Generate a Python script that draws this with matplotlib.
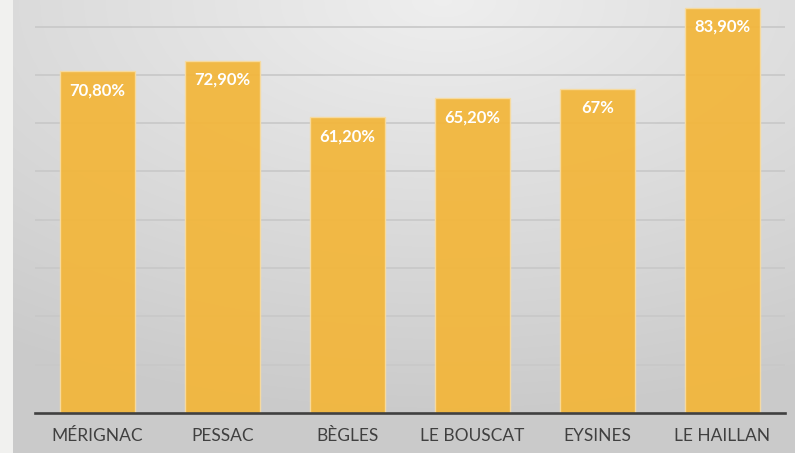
import numpy as np
import matplotlib
matplotlib.use("Agg")
import matplotlib.pyplot as plt

categories = ["MÉRIGNAC", "PESSAC", "BÈGLES", "LE BOUSCAT", "EYSINES", "LE HAILLAN"]
values = [70.8, 72.9, 61.2, 65.2, 67.0, 83.9]
labels = ["70,80%", "72,90%", "61,20%", "65,20%", "67%", "83,90%"]

W, H = 795, 453
fig = plt.figure(figsize=(W / 100, H / 100), dpi=100)
fig.patch.set_facecolor("#f1f1ef")

# background gradient panel
bg = fig.add_axes([13 / W, 0, 1 - 13 / W, 1])
yy, xx = np.mgrid[0:1:200j, 0:1:400j]
r = np.sqrt(((xx - 0.55) * 1.0) ** 2 + ((yy - 0.0) * 1.1) ** 2)
g = 0.935 - 0.14 * np.clip(r / 1.0, 0, 1)
img = np.dstack([g, g, g])
bg.imshow(img, aspect="auto", extent=[0, 1, 1, 0], interpolation="bicubic")
bg.set_axis_off()

ax = fig.add_axes([35 / W, 1 - 413 / H, 750 / W, 413 / H])
ax.patch.set_alpha(0)
x = np.arange(len(categories))
ax.set_xlim(-0.5, len(categories) - 0.5)
ax.set_ylim(0, 85.5)
ax.set_yticks(np.arange(10, 81, 10))
ax.yaxis.grid(True, color="#c8c8c8", linewidth=1.2)
ax.set_axisbelow(True)
bars = ax.bar(x, values, width=0.6, color="#f3b63a", alpha=0.93,
              edgecolor="#f8dca0", linewidth=1.0, zorder=2)
for xi, v, lab in zip(x, values, labels):
    ax.annotate(lab, (xi, v), xytext=(0, -8), textcoords="offset points",
                ha="center", va="top", color="white", fontweight="bold",
                fontsize=12, family="Lato", zorder=3)
for s in ["top", "right", "left"]:
    ax.spines[s].set_visible(False)
ax.spines["bottom"].set_color("#404040")
ax.spines["bottom"].set_linewidth(1.9)
ax.set_xticks(x)
ax.set_xticklabels(categories, fontsize=12.5, color="#404040", family="Lato")
ax.tick_params(axis="x", length=0, pad=11)
ax.tick_params(axis="y", length=0, labelleft=False)

fig.savefig("out.png", dpi=100)
